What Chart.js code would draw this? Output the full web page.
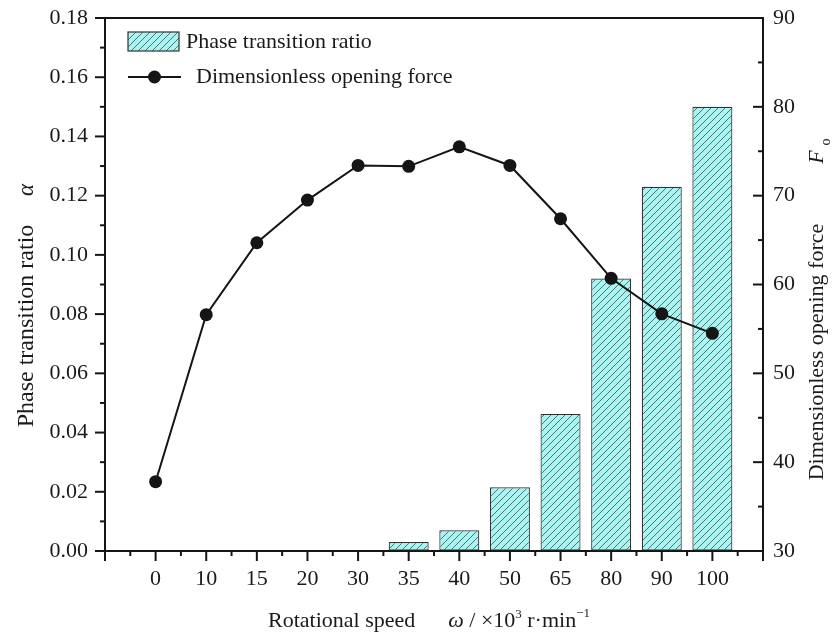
<!DOCTYPE html>
<html>
<head>
<meta charset="utf-8">
<script src="https://cdn.jsdelivr.net/npm/chart.js@4.4.1/dist/chart.umd.min.js"></script>
<style>
  html, body { margin: 0; padding: 0; background: #fff; }
  #contenedor { width: 835px; height: 635px; position: relative; }
</style>
</head>
<body>
<div id="contenedor"><canvas id="grafico"></canvas></div>
<script>
// Datos
const velocidades = ['0', '10', '15', '20', '30', '35', '40', '50', '65', '80', '90', '100'];
const relacionFase = [0, 0, 0, 0, 0, 0.003, 0.007, 0.0215, 0.0463, 0.092, 0.123, 0.150];
const fuerzaApertura = [37.8, 56.6, 64.7, 69.5, 73.4, 73.3, 75.5, 73.4, 67.4, 60.7, 56.7, 54.5];
const ticksRelacion = [0, 0.02, 0.04, 0.06, 0.08, 0.10, 0.12, 0.14, 0.16, 0.18];
const ticksFuerza = [30, 40, 50, 60, 70, 80, 90];

const etiquetas = [''].concat(velocidades, ['']);
const serieBarras = [null].concat(relacionFase, [null]);
const serieLinea = [null].concat(fuerzaApertura, [null]);

const fuente = '"Liberation Serif", "Times New Roman", serif';
const negro = '#151515';

function crearRayado() {
    let c = document.createElement('canvas');
    c.width = 7;
    c.height = 7;
    let g = c.getContext('2d');
    g.fillStyle = '#aaf5f1';
    g.fillRect(0, 0, 7, 7);
    g.strokeStyle = '#3f6868';
    g.lineWidth = 0.9;
    g.beginPath();
    g.moveTo(0, 7); g.lineTo(7, 0);
    g.moveTo(-1, 1); g.lineTo(1, -1);
    g.moveTo(6, 8); g.lineTo(8, 6);
    g.stroke();
    return document.getElementById('grafico').getContext('2d').createPattern(c, 'repeat');
}
const rayado = crearRayado();

function linea(ctx, x1, y1, x2, y2) {
    ctx.beginPath();
    ctx.moveTo(x1, y1);
    ctx.lineTo(x2, y2);
    ctx.stroke();
}

// texto por piezas: [texto, fuente, desplazamiento vertical]
function textoPiezas(ctx, piezas, x, y) {
    let px = x;
    for (const [t, f, dy] of piezas) {
        ctx.font = f;
        ctx.fillText(t, px, y + dy);
        px += ctx.measureText(t).width;
    }
}

// quitar el relleno automatico que Chart.js deja para las etiquetas
function sinRelleno(escala) {
    escala.paddingTop = 0;
    escala.paddingBottom = 0;
    escala.paddingLeft = 0;
    escala.paddingRight = 0;
}

const extras = {
    id: 'extras',
    afterDraw(chart) {
        const ctx = chart.ctx;
        const a = chart.chartArea;
        const sx = chart.scales.x, sy = chart.scales.y, sy1 = chart.scales.y1;
        ctx.save();
        ctx.strokeStyle = negro;
        ctx.lineWidth = 2;
        linea(ctx, a.left - 1, a.top, a.right + 1, a.top);

        // marcas del eje x (mayores y menores)
        for (let i = 0; i < etiquetas.length; i++) {
            const px = sx.getPixelForValue(i);
            linea(ctx, px, a.bottom, px, a.bottom + 10);
            if (i < etiquetas.length - 1) {
                const medio = (px + sx.getPixelForValue(i + 1)) / 2;
                linea(ctx, medio, a.bottom, medio, a.bottom + 5);
            }
        }
        // eje izquierdo, marcas hacia afuera
        for (let i = 0; i < ticksRelacion.length; i++) {
            const py = sy.getPixelForValue(ticksRelacion[i]);
            linea(ctx, a.left - 10, py, a.left, py);
            if (i < ticksRelacion.length - 1) {
                const medio = (py + sy.getPixelForValue(ticksRelacion[i + 1])) / 2;
                linea(ctx, a.left - 5, medio, a.left, medio);
            }
        }
        // eje derecho, marcas hacia adentro
        for (let i = 0; i < ticksFuerza.length; i++) {
            const py = sy1.getPixelForValue(ticksFuerza[i]);
            linea(ctx, a.right - 10, py, a.right, py);
            if (i < ticksFuerza.length - 1) {
                const medio = (py + sy1.getPixelForValue(ticksFuerza[i + 1])) / 2;
                linea(ctx, a.right - 5, medio, a.right, medio);
            }
        }

        // leyenda
        const barra = chart.data.datasets[1];
        ctx.fillStyle = rayado;
        ctx.fillRect(128, 32, 51, 19);
        ctx.lineWidth = 1.2;
        ctx.strokeStyle = '#333';
        ctx.strokeRect(128, 32, 51, 19);
        ctx.strokeStyle = negro;
        ctx.lineWidth = 2;
        linea(ctx, 128, 77, 181, 77);
        ctx.fillStyle = negro;
        ctx.beginPath();
        ctx.arc(154.5, 77, 6.5, 0, Math.PI * 2);
        ctx.fill();
        ctx.fillStyle = '#1a1a1a';
        ctx.textBaseline = 'middle';
        ctx.textAlign = 'left';
        ctx.font = '22px ' + fuente;
        ctx.fillText(barra.label, 186, 42);
        ctx.fillText(chart.data.datasets[0].label, 196, 77);

        // titulo eje x
        ctx.textBaseline = 'alphabetic';
        const normal = '22px ' + fuente;
        const cursiva = 'italic 22px ' + fuente;
        const chica = '13px ' + fuente;
        textoPiezas(ctx, [
            ['Rotational speed', normal, 0],
            ['      ', normal, 0],
            ['\u03c9', cursiva, 0],
            [' / \u00d710', normal, 0],
            ['3', chica, -9],
            [' r\u00b7min', normal, 0],
            ['\u22121', chica, -10]
        ], 268, 627);

        // titulo eje izquierdo
        ctx.save();
        ctx.translate(27, 326);
        ctx.rotate(-Math.PI / 2);
        ctx.textBaseline = 'middle';
        ctx.textAlign = 'center';
        ctx.font = '24px ' + fuente;
        ctx.fillText('Phase transition ratio', 0, 0);
        ctx.font = 'italic 23px ' + fuente;
        ctx.fillText('\u03b1', 136, 0);
        ctx.restore();

        // titulo eje derecho
        ctx.save();
        ctx.translate(817, 352);
        ctx.rotate(-Math.PI / 2);
        ctx.textBaseline = 'middle';
        ctx.textAlign = 'center';
        ctx.font = normal;
        ctx.fillText('Dimensionless opening force', 0, 0);
        ctx.font = cursiva;
        ctx.fillText('F', 195, 0);
        ctx.font = '14px ' + fuente;
        ctx.fillText('o', 210, 9);
        ctx.restore();

        ctx.restore();
    }
};

new Chart(document.getElementById('grafico'), {
    data: {
        labels: etiquetas,
        datasets: [{
            type: 'line',
            label: 'Dimensionless opening force',
            data: serieLinea,
            yAxisID: 'y1',
            borderColor: negro,
            backgroundColor: negro,
            borderWidth: 2,
            pointRadius: 6.5,
            pointHoverRadius: 6.5,
            pointBorderWidth: 0,
            tension: 0,
            order: 0
        }, {
            type: 'bar',
            label: 'Phase transition ratio',
            data: serieBarras,
            yAxisID: 'y',
            backgroundColor: rayado,
            borderColor: '#333',
            borderWidth: ctx => ctx.raw > 0 ? 1.2 : 0,
            borderSkipped: false,
            barPercentage: 0.79,
            categoryPercentage: 1,
            order: 1
        }]
    },
    options: {
        responsive: true,
        maintainAspectRatio: false,
        animation: false,
        events: [],
        layout: { padding: { top: 18, left: 0, right: 0, bottom: 0 } },
        plugins: {
            legend: { display: false },
            tooltip: { enabled: false }
        },
        scales: {
            x: {
                type: 'category',
                offset: false,
                grid: { display: true, drawOnChartArea: false, drawTicks: false, offset: false },
                border: { display: true, color: negro, width: 2 },
                ticks: {
                    autoSkip: false,
                    maxRotation: 0,
                    padding: 15,
                    color: '#1a1a1a',
                    font: { family: fuente, size: 22 }
                },
                afterFit: escala => { escala.height = 84; sinRelleno(escala); }
            },
            y: {
                position: 'left',
                min: 0,
                max: 0.18,
                afterBuildTicks: escala => { escala.ticks = ticksRelacion.map(v => ({ value: v })); },
                grid: { display: true, drawOnChartArea: false, drawTicks: false },
                border: { display: true, color: negro, width: 2 },
                ticks: {
                    padding: 17,
                    color: '#1a1a1a',
                    font: { family: fuente, size: 22 },
                    callback: v => v.toFixed(2)
                },
                afterFit: escala => { escala.width = 105; sinRelleno(escala); }
            },
            y1: {
                position: 'right',
                min: 30,
                max: 90,
                afterBuildTicks: escala => { escala.ticks = ticksFuerza.map(v => ({ value: v })); },
                grid: { display: true, drawOnChartArea: false, drawTicks: false },
                border: { display: true, color: negro, width: 2 },
                ticks: {
                    padding: 10,
                    color: '#1a1a1a',
                    font: { family: fuente, size: 22 }
                },
                afterFit: escala => { escala.width = 72; sinRelleno(escala); }
            }
        }
    },
    plugins: [extras]
});
</script>
</body>
</html>
